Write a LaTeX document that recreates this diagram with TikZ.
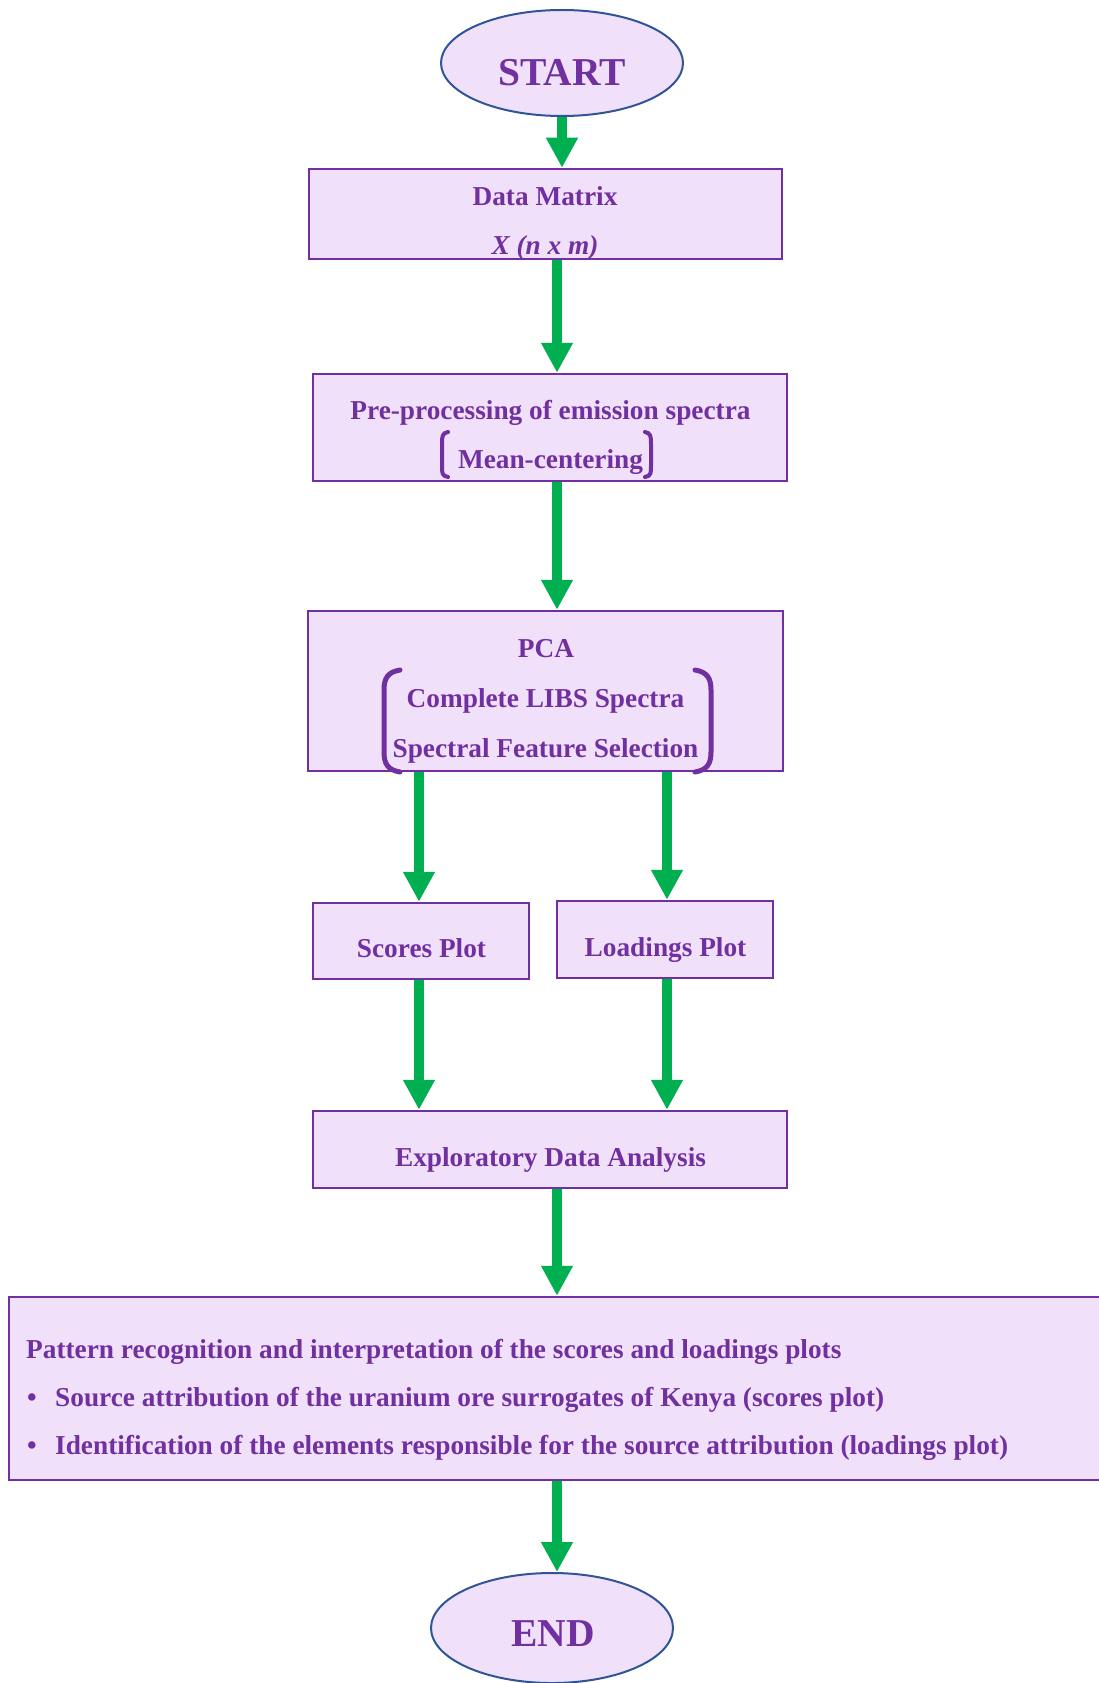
\documentclass[tikz,border=0pt]{standalone}
\usepackage{fontspec}
\setmainfont{Liberation Serif}
\usetikzlibrary{arrows.meta,shapes.geometric}
\definecolor{txtpurple}{HTML}{7030A0}
\definecolor{boxfill}{RGB}{241,224,250}
\definecolor{arrgreen}{HTML}{00B050}
\definecolor{ellblue}{HTML}{2F5597}
\begin{document}
\begin{tikzpicture}[x=1pt,y=-1pt,
  box/.style={draw=txtpurple, line width=2.5pt, fill=boxfill, rectangle, inner sep=0pt},
  term/.style={draw=ellblue, line width=2pt, fill=boxfill, ellipse, inner sep=0pt, minimum width=242pt},
  lbl/.style={text=txtpurple, font=\fontsize{27.3}{32}\selectfont\bfseries, anchor=base, inner sep=0pt},
  biglbl/.style={text=txtpurple, font=\fontsize{39.5}{46}\selectfont\bfseries, anchor=base, inner sep=0pt},
  flow/.style={draw=arrgreen, line width=10pt, -{Triangle[width=30pt,length=30pt]}},
  brk/.style={draw=txtpurple, line cap=round, line width=4pt}
]
\useasboundingbox (0,0) rectangle (1098,1683);

% terminals and boxes
\node[term, minimum height=106pt] (start) at (562,63) {};
\node[box, minimum width=473pt, minimum height=90pt] (dm) at (545.5,214) {};
\node[box, minimum width=474pt, minimum height=107pt] (pp) at (550,427.5) {};
\node[box, minimum width=475pt, minimum height=160pt] (pca) at (545.5,691) {};
\node[box, minimum width=216pt, minimum height=76pt] (sc) at (421,941) {};
\node[box, minimum width=216pt, minimum height=77pt] (ld) at (665,939.5) {};
\node[box, minimum width=474pt, minimum height=77pt] (eda) at (550,1149.5) {};
\node[box, minimum width=1103pt, minimum height=183pt] (pr) at (560.5,1388.5) {};
\node[term, minimum height=110pt] (end) at (552,1628) {};

% texts
\node[biglbl] (tstart) at (562,86) {START};
\node[lbl] (tdm1) at (545,205) {Data Matrix};
\node[lbl] (tdm2) at (545,254) {\itshape X (n x m)};
\node[lbl] (tpp1) at (550.5,419) {Pre-processing of emission spectra};
\node[lbl] (tpp2) at (550.5,468) {Mean-centering};
\node[lbl] (tpca1) at (546,657) {PCA};
\node[lbl] (tpca2) at (545.5,707) {Complete LIBS Spectra};
\node[lbl] (tpca3) at (545.5,757) {Spectral Feature Selection};
\node[lbl] (tsc) at (421.5,957) {Scores Plot};
\node[lbl] (tld) at (665.5,956) {Loadings Plot};
\node[lbl] (teda) at (550.5,1166) {Exploratory Data Analysis};
\node[lbl, anchor=base west] (tpr1) at (26,1358) {Pattern recognition and interpretation of the scores and loadings plots};
\node[lbl, anchor=base west] (tpr2) at (27,1406) {\makebox[28pt][l]{•}Source attribution of the uranium ore surrogates of Kenya (scores plot)};
\node[lbl, anchor=base west] (tpr3) at (27,1454) {\makebox[28pt][l]{•}Identification of the elements responsible for the source attribution (loadings plot)};
\node[biglbl] (tend) at (553,1646) {END};

% brackets
\draw[brk] (448,432) .. controls (442,433) and (442,437) .. (442,444) -- (442,466) .. controls (442,473) and (442,476) .. (448,477);
\draw[brk] (645,432) .. controls (651,433) and (651,437) .. (651,444) -- (651,466) .. controls (651,473) and (651,476) .. (645,477);
\draw[brk, line width=5pt] (400,670) .. controls (388,672) and (384,678) .. (384,690) -- (384,752) .. controls (384,764) and (388,770) .. (400,772);
\draw[brk, line width=5pt] (695,670) .. controls (707,672) and (711,678) .. (711,690) -- (711,752) .. controls (711,764) and (707,770) .. (695,772);

% connectors
\draw[flow] (start.south) -- (start.south |- dm.north);
\draw[flow] (557,0 |- dm.south) -- (557,0 |- pp.north);
\draw[flow] (557,0 |- pp.south) -- (557,0 |- pca.north);
\draw[flow] (419,0 |- pca.south) -- (419,0 |- sc.north);
\draw[flow] (667,0 |- pca.south) -- (667,0 |- ld.north);
\draw[flow] (419,0 |- sc.south) -- (419,0 |- eda.north);
\draw[flow] (667,0 |- ld.south) -- (667,0 |- eda.north);
\draw[flow] (557,0 |- eda.south) -- (557,0 |- pr.north);
\draw[flow] (557,0 |- pr.south) -- (557,0 |- end.north);
\end{tikzpicture}
\end{document}
